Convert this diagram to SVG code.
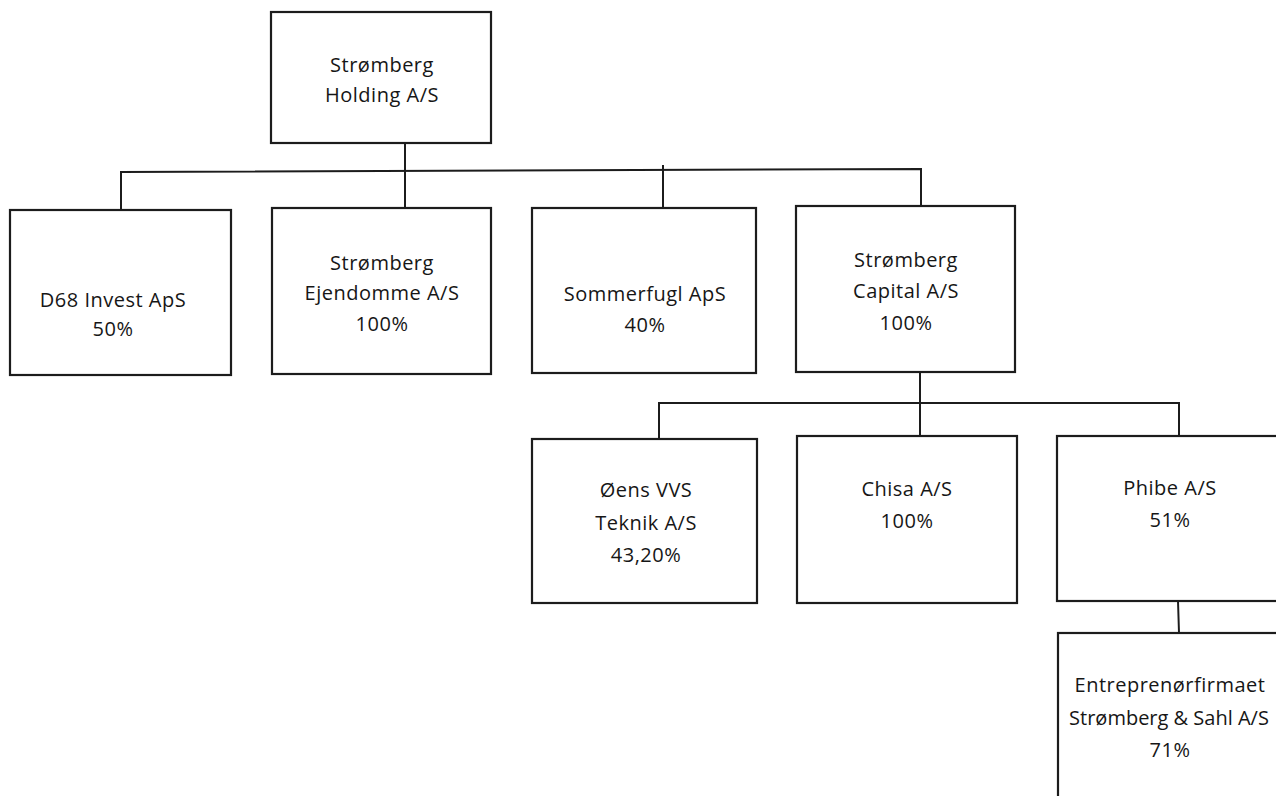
<svg xmlns="http://www.w3.org/2000/svg" width="1276" height="796" viewBox="0 0 1276 796">
<style>
.box{fill:#fff;stroke:#1c1c1c;stroke-width:2.2}
.ln{fill:none;stroke:#1c1c1c;stroke-width:2}
text{font-family:"Open Sans","Noto Sans","DejaVu Sans",sans-serif;font-size:20px;fill:#161616;text-anchor:middle;letter-spacing:0.5px}
.tight{letter-spacing:0}
</style>
<rect width="1276" height="796" fill="#fff"/>
<g id="connectors">
<path class="ln" d="M405 143 V171"/>
<path class="ln" d="M121 210 V172 L921 169 V206"/>
<path class="ln" d="M405 171 V208"/>
<path class="ln" d="M663 165 V213"/>
<path class="ln" d="M920 372 V436"/>
<path class="ln" d="M659 439 V403 H1179 V436"/>
<path class="ln" d="M1178 601 L1179 633"/>
</g>
<g id="holding">
<rect class="box" x="271" y="12" width="220" height="131"/>
<text x="382" y="72">Strømberg</text>
<text x="382" y="102">Holding A/S</text>
</g>
<g id="d68">
<rect class="box" x="10" y="210" width="221" height="165"/>
<text x="113" y="307">D68 Invest ApS</text>
<text x="113" y="336">50%</text>
</g>
<g id="ejendomme">
<rect class="box" x="272" y="208" width="219" height="166"/>
<text x="382" y="270">Strømberg</text>
<text x="382" y="300">Ejendomme A/S</text>
<text x="382" y="331">100%</text>
</g>
<g id="sommerfugl">
<rect class="box" x="532" y="208" width="224" height="165"/>
<text x="645" y="301">Sommerfugl ApS</text>
<text x="645" y="332">40%</text>
</g>
<g id="capital">
<rect class="box" x="796" y="206" width="219" height="166"/>
<text x="906" y="267">Strømberg</text>
<text x="906" y="298">Capital A/S</text>
<text x="906" y="330">100%</text>
</g>
<g id="oens">
<rect class="box" x="532" y="439" width="225" height="164"/>
<text x="646" y="497">Øens VVS</text>
<text x="646" y="530">Teknik A/S</text>
<text x="646" y="562">43,20%</text>
</g>
<g id="chisa">
<rect class="box" x="797" y="436" width="220" height="167"/>
<text x="907" y="496">Chisa A/S</text>
<text x="907" y="528">100%</text>
</g>
<g id="phibe">
<rect class="box" x="1057" y="436" width="240" height="165"/>
<text x="1170" y="495">Phibe A/S</text>
<text x="1170" y="527">51%</text>
</g>
<g id="entreprenor">
<rect class="box" x="1058" y="633" width="240" height="180"/>
<text x="1170" y="692">Entreprenørfirmaet</text>
<text class="tight" x="1169" y="725">Strømberg &amp; Sahl A/S</text>
<text x="1170" y="757">71%</text>
</g>
</svg>
